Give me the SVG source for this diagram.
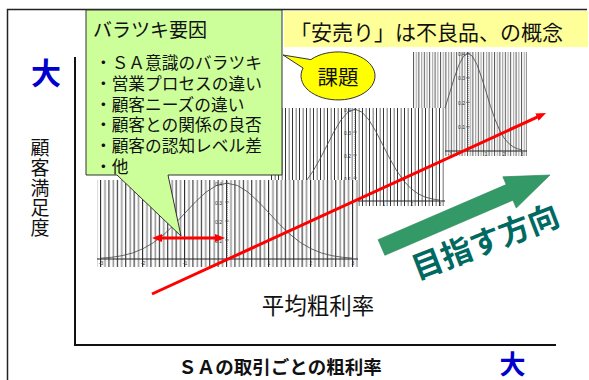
<svg xmlns="http://www.w3.org/2000/svg" width="589" height="380" viewBox="0 0 589 380">
  <defs>
    <!-- vertical gridline textures behind the three distribution plots -->
    <pattern id="stripesWide" patternUnits="userSpaceOnUse" x="100" y="0" width="8.4" height="10">
      <rect x="0" y="0" width="1.1" height="10" fill="#2a2a2a"/>
      <rect x="4.2" y="0" width="1.6" height="10" fill="#9a9a9a"/>
    </pattern>
    <pattern id="stripesMid" patternUnits="userSpaceOnUse" x="271" y="0" width="7" height="10">
      <rect x="0" y="0" width="1" height="10" fill="#333"/>
      <rect x="3.5" y="0" width="1.5" height="10" fill="#a0a0a0"/>
    </pattern>
    <pattern id="stripesNarrow" patternUnits="userSpaceOnUse" x="413" y="0" width="5.4" height="10">
      <rect x="0" y="0" width="1" height="10" fill="#555"/>
      <rect x="2.7" y="0" width="1.2" height="10" fill="#a8a8a8"/>
    </pattern>
    <marker id="redHead" viewBox="0 0 10 8" refX="5" refY="4" markerWidth="10" markerHeight="8" markerUnits="userSpaceOnUse" orient="auto-start-reverse">
      <path d="M0,0 L10,4 L0,8 Z" fill="#ff0000"/>
    </marker>
  </defs>
  <style>
    .jp { font-family: "Noto Sans CJK JP", "Noto Sans CJK SC", sans-serif; }
    .tick { font-family: "Liberation Sans", sans-serif; font-size: 5px; fill: #333; }
    .curve { fill: none; stroke: #444; stroke-width: 0.8; }
    .xaxis { stroke: #222; stroke-width: 1; }
    .yaxis { stroke: #444; stroke-width: 0.8; stroke-dasharray: 1 1; }
    .ytick { stroke: #444; stroke-width: 0.6; }
    .big { font-weight: bold; fill: #0000cc; }
    .item { font-size: 16.7px; fill: #111; }
  </style>

  <rect width="589" height="380" fill="#ffffff"/>

  <!-- outer frame -->
  <path id="frame" d="M587,9.5 H7.5 V380" fill="none" stroke="#222" stroke-width="1.5"/>

  <!-- axes -->
  <g id="axes">
    <path d="M75,57 V345 H556" fill="none" stroke="#111" stroke-width="2"/>
    <text class="jp big" x="46" y="71" font-size="30" text-anchor="middle" dominant-baseline="central">大</text>
    <text class="jp big" x="512.5" y="362.5" font-size="26" text-anchor="middle" dominant-baseline="central">大</text>
    <text class="jp" x="40" y="138" font-size="19" letter-spacing="1" fill="#111" writing-mode="vertical-rl">顧客満足度</text>
    <text class="jp" x="280" y="365.5" font-size="18.5" font-weight="bold" fill="#111" text-anchor="middle" dominant-baseline="central">ＳＡの取引ごとの粗利率</text>
  </g>

  <!-- narrow distribution (top right) -->
  <g id="plot-narrow">
    <rect x="412" y="52" width="115" height="104" fill="#fff"/>
    <rect x="412" y="52" width="115" height="104" fill="url(#stripesNarrow)"/>
    <line class="xaxis" x1="412" y1="151" x2="527" y2="151"/>
    <line class="yaxis" x1="468" y1="52" x2="468" y2="151"/>
    <path class="ytick" d="M466,53.3 H470 M466,77.8 H470 M466,102.3 H470 M466,126.8 H470"/>
    <polyline class="curve" points="414,149.9 418.5,148.8 423,146.7 427.5,143.2 432,137.8 436.5,129.9 441,119.3 445.5,106.3 450,91.7 454.5,77.2 459,64.7 463.5,56.3 468,53.3 472.5,56.3 477,64.7 481.5,77.2 486,91.7 490.5,106.3 495,119.3 499.5,129.9 504,137.8 508.5,143.2 513,146.7 517.5,148.8 522,149.9"/>
    <g class="tick" text-anchor="end" dominant-baseline="central">
      <text x="465" y="54">0.4</text>
      <text x="465" y="78">0.3</text>
      <text x="465" y="102.5">0.2</text>
      <text x="465" y="127">0.1</text>
    </g>
    <g class="tick" text-anchor="middle">
      <text x="450" y="156">-1</text>
      <text x="486" y="156">1</text>
      <text x="504" y="156">2</text>
      <text x="522" y="156">3</text>
    </g>
  </g>

  <!-- medium distribution (middle) -->
  <g id="plot-mid">
    <rect x="269" y="108" width="176" height="98" fill="#fff"/>
    <rect x="269" y="108" width="176" height="98" fill="url(#stripesMid)"/>
    <line class="xaxis" x1="269" y1="201" x2="445" y2="201"/>
    <line class="yaxis" x1="355" y1="108" x2="355" y2="201"/>
    <path class="ytick" d="M353,109.3 H357 M353,132 H357 M353,155 H357 M353,178 H357"/>
    <polyline class="curve" points="271,200 278,198.9 285,197 292,193.7 299,188.6 306,181.2 313,171.2 320,159 327,145.3 334,131.7 341,120 348,112.1 355,109.3 362,112.1 369,120 376,131.7 383,145.3 390,159 397,171.2 404,181.2 411,188.6 418,193.7 425,197 432,198.9 439,200"/>
    <g class="tick" text-anchor="end" dominant-baseline="central">
      <text x="351" y="110">0.4</text>
      <text x="351" y="132.5">0.3</text>
      <text x="351" y="155.5">0.2</text>
      <text x="351" y="178.5">0.1</text>
    </g>
    <g class="tick" text-anchor="middle">
      <text x="384" y="206">1</text>
      <text x="412" y="206">2</text>
      <text x="440" y="206">3</text>
    </g>
  </g>

  <!-- wide distribution (bottom left) -->
  <g id="plot-wide">
    <rect x="97" y="180" width="261" height="87" fill="#fff"/>
    <rect x="97" y="180" width="261" height="87" fill="url(#stripesWide)"/>
    <line class="xaxis" x1="97" y1="259" x2="358" y2="259"/>
    <line class="yaxis" x1="227" y1="181" x2="227" y2="259"/>
    <path class="ytick" d="M225,183.2 H229 M225,202 H229 M225,221 H229 M225,240 H229"/>
    <polyline class="curve" points="101,258.2 111.5,257.3 122,255.7 132.5,253 143,248.7 153.5,242.6 164,234.4 174.5,224.3 185,213 195.5,201.8 206,192.1 216.5,185.5 227,183.2 237.5,185.5 248,192.1 258.5,201.8 269,213 279.5,224.3 290,234.4 300.5,242.6 311,248.7 321.5,253 332,255.7 342.5,257.3 353,258.2"/>
    <g class="tick" text-anchor="end" dominant-baseline="central">
      <text x="222" y="183.5">0.4</text>
      <text x="222" y="202.5">0.3</text>
      <text x="222" y="221.5">0.2</text>
      <text x="222" y="240.5">0.1</text>
    </g>
    <g class="tick" text-anchor="middle">
      <text x="101" y="265">-3</text>
      <text x="143" y="265">-2</text>
      <text x="185" y="265">-1</text>
      <text x="269" y="265">1</text>
      <text x="311" y="265">2</text>
      <text x="353" y="265">3</text>
    </g>
  </g>

  <!-- headline -->
  <g id="headline">
    <rect x="284" y="11" width="304" height="36" fill="#ffff99"/>
    <text class="jp" x="290" y="30.5" font-size="21" fill="#111" dominant-baseline="central">「安売り」は不良品、の概念</text>
  </g>

  <!-- connectors -->
  <g id="connectors" fill="none" stroke="#ff0000" stroke-width="3">
    <line x1="152" y1="294" x2="541.5" y2="115.1" marker-end="url(#redHead)"/>
    <line x1="157" y1="238" x2="220" y2="238" marker-start="url(#redHead)" marker-end="url(#redHead)"/>
  </g>

  <!-- target direction arrow -->
  <g id="direction">
    <path d="M0,-8.5 L139.4,-8.5 L139.4,-17 L183.4,0 L139.4,17 L139.4,8.5 L0,8.5 Z" transform="translate(381.5,247.5) rotate(-23.28)" fill="#339966" stroke="#2e8a5c" stroke-width="0.6"/>
    <text class="jp" x="0" y="0" font-size="31" font-weight="bold" fill="#006a62" text-anchor="middle" dominant-baseline="central" transform="translate(484.5,239.5) rotate(-21)">目指す方向</text>
  </g>

  <!-- variation factors callout -->
  <g id="factors">
    <path d="M86,10 H282 V175 H168 L181,236 L117,175 H86 Z" fill="#ccff99" stroke="#333" stroke-width="1"/>
    <text class="jp" x="93" y="28.5" font-size="19" fill="#111" dominant-baseline="central">バラツキ要因</text>
    <g class="jp item" dominant-baseline="central">
      <text x="95" y="62">・ＳＡ意識のバラツキ</text>
      <text x="95" y="83">・営業プロセスの違い</text>
      <text x="95" y="103.5">・顧客ニーズの違い</text>
      <text x="95" y="124">・顧客との関係の良否</text>
      <text x="95" y="145">・顧客の認知レベル差</text>
      <text x="95" y="166">・他</text>
    </g>
  </g>

  <!-- issue bubble -->
  <g id="issue">
    <path d="M310.9,59.6 L283,55 L303.1,68 A37,24 0 1 0 310.9,59.6 Z" fill="#ffff00" stroke="#333" stroke-width="1"/>
    <text class="jp" x="338" y="76" font-size="20.5" fill="#111" text-anchor="middle" dominant-baseline="central">課題</text>
  </g>

  <!-- average margin label -->
  <text id="average" class="jp" x="318" y="304" font-size="22.5" fill="#111" text-anchor="middle" dominant-baseline="central">平均粗利率</text>
</svg>
